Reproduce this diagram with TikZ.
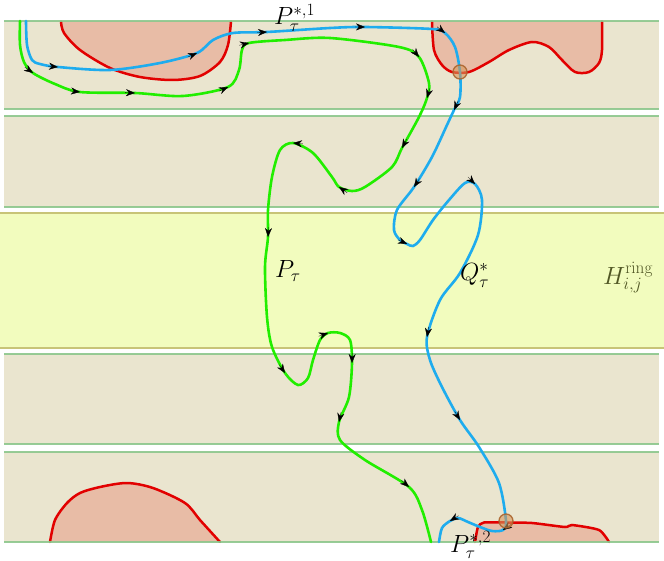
\documentclass[tikz,border=0pt]{standalone}
\usetikzlibrary{arrows.meta,calc}
\DeclareMathSizes{24.88}{24.88}{17.28}{12}
\definecolor{bandfill}{RGB}{234,229,207}
\definecolor{bandline}{RGB}{140,198,140}
\definecolor{ringfill}{RGB}{242,252,190}
\definecolor{ringline}{RGB}{200,196,120}
\definecolor{blobfill}{RGB}{232,188,166}
\definecolor{blobline}{RGB}{226,0,0}
\definecolor{pgreen}{RGB}{34,238,0}
\definecolor{qblue}{RGB}{30,172,238}
\definecolor{dotfill}{RGB}{214,150,90}
\definecolor{dotline}{RGB}{170,100,45}
\definecolor{ringtext}{RGB}{80,86,36}
\newcommand\marrow[3]{\coordinate (mtmp) at ($(#2)+(#1)-(#3)$);\draw[arrowmk] ($(#2)!10pt!(mtmp)$) -- (#2);}
\begin{document}
\begin{tikzpicture}[x=1pt,y=-1pt,
 bandedge/.style={draw=bandline,line width=2pt,draw opacity=0.9},
 ringedge/.style={draw=ringline,line width=2pt},
 blobedge/.style={draw=blobline,line width=2.5pt,line cap=round},
 ppath/.style={draw=pgreen,line width=2.6pt,line cap=round},
 qpath/.style={draw=qblue,line width=2.6pt,line cap=round},
 arrowmk/.style={-{Stealth[length=9pt,width=7pt]},black,line width=0.3pt},
 crossdot/.style={circle,minimum size=14pt,inner sep=0pt,fill=dotfill,fill opacity=0.6,draw=dotline,draw opacity=0.9,line width=1.3pt},
 lab/.style={inner sep=0pt,font=\fontsize{24.88}{30}\selectfont}]
\useasboundingbox (0,0) rectangle (664,561);
% bands
\fill[bandfill] (4,21.5) rectangle (659,109);
\fill[bandfill] (4,116.5) rectangle (659,207);
\fill[ringfill] (0,213.5) rectangle (664,348);
\fill[bandfill] (4,353.5) rectangle (659,444);
\fill[bandfill] (4,452) rectangle (659,542);
% blobs
\fill[blobfill] plot[smooth] coordinates {(61,21.5) (64,33) (80,50) (110,68) (140,77) (173,80) (200,76) (220,62) (228,45) (231,21.5)} -- cycle;
\draw[blobedge] plot[smooth] coordinates {(61,21.5) (64,33) (80,50) (110,68) (140,77) (173,80) (200,76) (220,62) (228,45) (231,21.5)};
\fill[blobfill] plot[smooth] coordinates {(432,21.5) (434,50) (442,65) (452,72) (469,72) (489,62) (509,50) (532,42) (549,47) (562,60) (575,72) (589,72) (599,63) (602,50) (602,21.5)} -- cycle;
\draw[blobedge] plot[smooth] coordinates {(432,21.5) (434,50) (442,65) (452,72) (469,72) (489,62) (509,50) (532,42) (549,47) (562,60) (575,72) (589,72) (599,63) (602,50) (602,21.5)};
\fill[blobfill] plot[smooth] coordinates {(50,542) (55,520) (67,503) (80,493) (100,487) (127,483) (153,488) (185,503) (200,520) (220,542)} -- cycle;
\draw[blobedge] plot[smooth] coordinates {(50,542) (55,520) (67,503) (80,493) (100,487) (127,483) (153,488) (185,503) (200,520) (220,542)};
\fill[blobfill] plot[smooth,tension=0.4] coordinates {(475,542) (478,527) (484,522.5) (505,522.5) (532,523) (565,527) (572,525) (599,530) (609,542)} -- cycle;
\draw[blobedge] plot[smooth,tension=0.4] coordinates {(475,542) (478,527) (484,522.5) (505,522.5) (532,523) (565,527) (572,525) (599,530) (609,542)};
% band edges
\foreach \y in {21.5,109,116.5,207,353.5,444,452,542} {\draw[bandedge] (4,\y) -- (659,\y);}
\draw[ringedge] (0,213.5) -- (664,213.5);
\draw[ringedge] (0,348) -- (664,348);
% path P (green)
\draw[ppath] plot[smooth] coordinates {(20,21) (20,45) (24,62) (33,73) (55,84) (80,92) (135,93) (183,96) (228,87) (239,70) (242,50) (249,43) (285,40) (330,38) (399,47) (419,57) (429,83) (427,98) (419,117) (402,148) (392,167) (365,187) (352,191) (339,187) (332,177) (313,153) (293,143) (280,150) (272,177) (268,210) (268,237) (265,267) (267,317) (272,347) (285,373) (298,385) (308,378) (313,360) (320,340) (328,333) (340,333) (350,340) (352,363) (349,397) (339,422) (340,440) (365,460) (409,487) (422,510) (431,542)};
\marrow{24,62}{33,73}{55,84}
\marrow{55,84}{80,92}{135,93}
\marrow{80,92}{135,93}{183,96}
\marrow{183,96}{228,87}{239,70}
\marrow{242,50}{249,43}{285,40}
\marrow{399,47}{419,57}{429,83}
\marrow{429,83}{427,98}{419,117}
\marrow{419,117}{402,148}{392,167}
\marrow{352,191}{339,187}{332,177}
\marrow{313,153}{293,143}{280,150}
\marrow{268,210}{268,237}{265,267}
\marrow{272,347}{285,373}{298,385}
\marrow{320,340}{328,333}{340,333}
\marrow{350,340}{352,363}{349,397}
\marrow{349,397}{339,422}{340,440}
\marrow{365,460}{409,487}{422,510}
% path Q (blue)
\draw[qpath] plot[smooth] coordinates {(26,21) (27,45) (32,60) (40,64) (58,67) (110,70) (160,63) (197,53) (213,40) (233,33) (267,32) (330,28) (365,27) (432,29) (445,33) (455,47) (460,72) (460,97) (454,110) (447,125) (432,157) (414,187) (397,210) (394,230) (400,240) (407,244) (413,246) (420,240) (433,220) (449,200) (465,183) (475,184) (482,200) (478,235) (460,273) (440,300) (427,337) (430,360) (442,387) (460,420) (479,447) (499,483) (506,521) (503,530) (492,531) (480,527) (468,522) (458,518) (450,521) (442,528) (439,542)};
\marrow{40,64}{58,67}{110,70}
\marrow{160,63}{197,53}{213,40}
\marrow{233,33}{267,32}{330,28}
\marrow{330,28}{365,27}{432,29}
\marrow{432,29}{445,33}{455,47}
\marrow{460,97}{454,110}{447,125}
\marrow{432,157}{414,187}{397,210}
\marrow{400,240}{407,244}{413,246}
\marrow{465,183}{475,184}{482,200}
\marrow{440,300}{427,337}{430,360}
\marrow{442,387}{460,420}{479,447}
\marrow{506,521}{503,530}{492,531}
\marrow{458,518}{450,521}{442,528}
% crossing dots
\node[crossdot] (c1) at (460,72) {};
\node[crossdot] (c2) at (506,521) {};
% labels
\node[lab,anchor=base west] (lp1) at (274,25) {$P_\tau^{*,1}$};
\node[lab,anchor=base west] (lp) at (275,278) {$P_\tau$};
\node[lab,anchor=base west] (lq) at (460,281) {$Q_\tau^{*}$};
\node[lab,anchor=base west,text=ringtext] (lh) at (603,285) {$H_{i,j}^{\mathrm{ring}}$};
\node[lab,anchor=base west] (lp2) at (450,552) {$P_\tau^{*,2}$};
\end{tikzpicture}
\end{document}
